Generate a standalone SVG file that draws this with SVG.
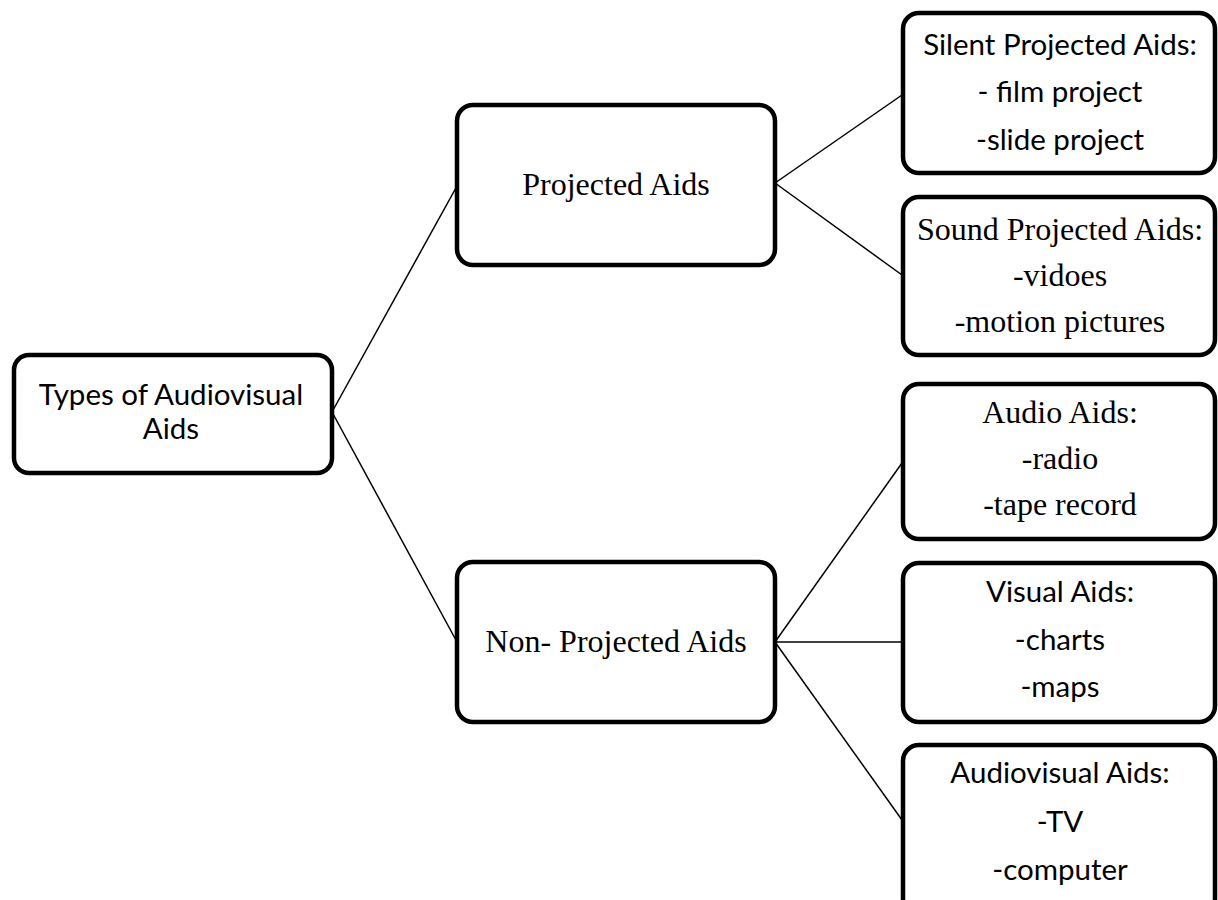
<svg xmlns="http://www.w3.org/2000/svg" width="1218" height="900" viewBox="0 0 1218 900">
<style>
.box{fill:#fff;stroke:#000;stroke-width:4.5}
.sans{font-family:Lato,"Liberation Sans",sans-serif;font-size:29.5px;fill:#000;text-anchor:middle}
.serif{font-family:"Liberation Serif","Times New Roman",serif;font-size:32px;fill:#000;text-anchor:middle}
.edge{stroke:#000;stroke-width:1.5;fill:none}
</style>
<rect width="1218" height="900" fill="#fff"/>
<g id="connectors">
<line class="edge" x1="332" y1="412" x2="457" y2="186"/>
<line class="edge" x1="332" y1="412" x2="457" y2="642"/>
<line class="edge" x1="775" y1="183" x2="902" y2="95"/>
<line class="edge" x1="775" y1="183" x2="902" y2="275"/>
<line class="edge" x1="775" y1="642" x2="902" y2="463"/>
<line class="edge" x1="775" y1="642" x2="902" y2="642"/>
<line class="edge" x1="775" y1="642" x2="902" y2="820"/>
</g>
<g id="root">
<rect class="box" x="14" y="355" width="318" height="118" rx="15"/>
<text class="sans" x="171" y="405">Types of Audiovisual</text>
<text class="sans" x="171" y="439">Aids</text>
</g>
<g id="projected">
<rect class="box" x="457" y="105" width="318" height="160" rx="16"/>
<text class="serif" x="616" y="195">Projected Aids</text>
</g>
<g id="nonprojected">
<rect class="box" x="457" y="562" width="318" height="160" rx="16"/>
<text class="serif" x="616" y="652">Non- Projected Aids</text>
</g>
<g id="silent">
<rect class="box" x="903" y="13" width="312" height="160" rx="16"/>
<text class="sans" x="1060" y="55">Silent Projected Aids:</text>
<text class="sans" x="1060" y="102">- film project</text>
<text class="sans" x="1060" y="150">-slide project</text>
</g>
<g id="sound">
<rect class="box" x="903" y="197" width="312" height="158" rx="16"/>
<text class="serif" x="1060" y="240">Sound Projected Aids:</text>
<text class="serif" x="1060" y="286">-vidoes</text>
<text class="serif" x="1060" y="332">-motion pictures</text>
</g>
<g id="audio">
<rect class="box" x="903" y="384" width="312" height="155" rx="16"/>
<text class="serif" x="1060" y="423">Audio Aids:</text>
<text class="serif" x="1060" y="469">-radio</text>
<text class="serif" x="1060" y="515">-tape record</text>
</g>
<g id="visual">
<rect class="box" x="903" y="563" width="312" height="159" rx="16"/>
<text class="sans" x="1060" y="602">Visual Aids:</text>
<text class="sans" x="1060" y="650">-charts</text>
<text class="sans" x="1060" y="697">-maps</text>
</g>
<g id="audiovisual">
<rect class="box" x="903" y="745" width="312" height="170" rx="16"/>
<text class="sans" x="1060" y="783">Audiovisual Aids:</text>
<text class="sans" x="1060" y="832">-TV</text>
<text class="sans" x="1060" y="880">-computer</text>
</g>
</svg>
